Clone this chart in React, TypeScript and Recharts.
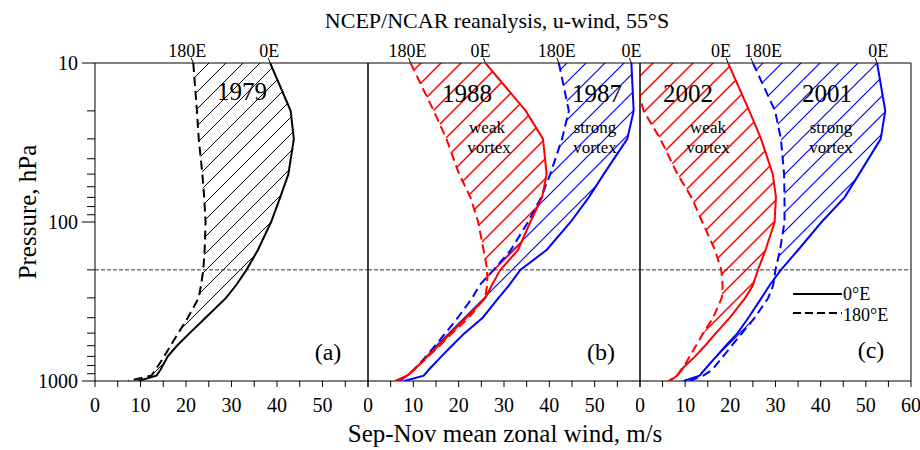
import React from 'react';
import { ComposedChart, Area, Line, XAxis, YAxis, ReferenceLine, ReferenceArea, ReferenceDot } from 'recharts';

const FONT = "'Liberation Serif', 'Times New Roman', serif";

// pressure levels, hPa (top to bottom)
const pressure = [10, 20, 30, 50, 70, 100, 150, 200, 250, 300, 400, 500, 600, 700, 850, 925, 1000];

// (a) 1979
const u0E1979 = [38.5, 43, 43.7, 42.5, 40.7, 38.7, 35.8, 33.3, 31, 28.8, 24.3, 20.8, 18, 16, 14.4, 13.5, 9.5];
const u180E1979 = [21.6, 22.4, 22.8, 23.6, 24, 24.3, 24.1, 23.8, 23.3, 22.8, 20.4, 18.3, 16.6, 15.2, 13.3, 12.4, 7.3];

// (b) 1988 weak vortex, 1987 strong vortex
const u0E1988 = [25.9, 34.8, 38.6, 39.4, 38.4, 35.8, 33.1, 29.2, 27.3, 25.9, 21.6, 18.2, 15.5, 13.1, 10.2, 8.6, 6.0];
const u180E1988 = [9.4, 14.5, 17.3, 20.1, 22.6, 24.3, 25.5, 26.3, 26.3, 25.8, 22.2, 18.6, 15.8, 13.3, 10.1, 8.8, 6.4];
const u0E1987 = [58.1, 58.6, 57.2, 52, 48.7, 44.7, 39.4, 33.6, 31.1, 28.8, 25.3, 21.3, 18.5, 16.2, 13.4, 12.3, 8.0];
const u180E1987 = [42.1, 44.3, 42.8, 40.2, 38.2, 35.3, 31.5, 27.7, 24.6, 23.0, 19.8, 17.1, 14.8, 12.8, 10.1, 8.6, 6.8];

// (c) 2002 weak vortex, 2001 strong vortex
const u0E2002 = [19.5, 24.2, 26.8, 29.4, 30.1, 29.8, 27.8, 26.1, 25, 23.3, 19.9, 16.8, 14.4, 12.2, 9.1, 8.2, 6.6];
const u180E2002 = [-2, 0.8, 4.5, 8.3, 11.4, 13.8, 16.6, 18, 18.3, 18.1, 16.2, 14, 12.4, 11, 9.3, 8.2, 6.3];
const u0E2001 = [52.5, 54.3, 53.3, 48.5, 45.3, 40.2, 35, 31.2, 28.7, 26.9, 24, 21.6, 19, 16.9, 14.3, 13.2, 9.6];
const u180E2001 = [25, 29.9, 31.2, 31.9, 32, 32, 31, 30, 29.5, 28.4, 25.4, 22.6, 20.3, 18.4, 16, 14, 11];

const pTicks = [10, 20, 30, 40, 50, 60, 70, 80, 90, 100, 200, 300, 400, 500, 600, 700, 800, 900, 1000];
const majorP = [10, 100, 1000];
const windTicks = [0, 5, 10, 15, 20, 25, 30, 35, 40, 45, 50, 55, 60];

type Profile = {
  id: string;
  u0: number[];
  u180: number[];
  color: string;
  gap: number;
  hatchWidth: number;
  shift0: number;
  shift180: number | null;
};

const LeftTick = (props: any) => {
  const { x, y, payload } = props;
  const major = majorP.includes(payload.value);
  return (
    <g>
      <line x1={x - (major ? 13 : 8)} x2={x} y1={y} y2={y} stroke="#000" strokeWidth={1} />
      {major && (
        <text x={x - 17} y={y} dy="0.35em" textAnchor="end" fontSize={20} fontFamily={FONT} fill="#000">
          {payload.value}
        </text>
      )}
    </g>
  );
};

const RightTick = (props: any) => {
  const { x, y, payload } = props;
  const major = majorP.includes(payload.value);
  return <line x1={x - (major ? 12 : 7)} x2={x} y1={y} y2={y} stroke="#000" strokeWidth={1} />;
};

const makeXTick = (showLast: boolean) => (props: any) => {
  const { x, y, payload } = props;
  const v = payload.value;
  const show = v % 10 === 0 && (showLast || v < 60);
  return (
    <g>
      <line x1={x} x2={x} y1={y} y2={y + 6} stroke="#000" strokeWidth={1} />
      {show && (
        <text x={x} y={y + 31} textAnchor="middle" fontSize={20} fontFamily={FONT} fill="#000">
          {v}
        </text>
      )}
    </g>
  );
};

const topLabel = (text: string, dx: number) => (props: any) => {
  const { cx, cy } = props;
  return (
    <g>
      <line x1={cx} y1={cy} x2={cx - 2} y2={cy - 5} stroke="#000" strokeWidth={1} />
      <text x={cx + dx} y={cy - 6} textAnchor="middle" fontSize={18} fontFamily={FONT} fill="#000">
        {text}
      </text>
    </g>
  );
};

// "/" hatch tile with horizontal spacing s
const hatchPath = (s: number) => `M-2,2 L2,-2 M0,${s} L${s},0 M${s - 2},${s + 2} L${s + 2},${s - 2}`;

function Panel({ name, profiles, left, width, margin, yLabels, showLast }: {
  name: string;
  profiles: Profile[];
  left: number;
  width: number;
  margin: { top: number; right: number; bottom: number; left: number };
  yLabels: boolean;
  showLast: boolean;
}) {
  const data = pressure.map((p, i) => {
    const row: any = { p };
    profiles.forEach((pr) => {
      row[pr.id + '0'] = pr.u0[i];
      row[pr.id + '180'] = pr.u180[i];
      row[pr.id + 'Band'] = [pr.u180[i], pr.u0[i]];
    });
    return row;
  });
  return (
    <div style={{ position: 'absolute', left, top: 0 }}>
      <svg width={1} height={1} style={{ position: 'absolute', left: 0, top: 0 }}>
        <defs>
          {profiles.map((pr) => (
            <pattern key={pr.id} id={`${name}-${pr.id}-hatch`} patternUnits="userSpaceOnUse"
              width={pr.gap} height={pr.gap}>
              <path d={hatchPath(pr.gap)} stroke={pr.color} strokeWidth={pr.hatchWidth} fill="none" />
            </pattern>
          ))}
        </defs>
      </svg>
      <ComposedChart layout="vertical" width={width} height={450} data={data} margin={margin}>
        <XAxis type="number" domain={[0, 60]} allowDataOverflow ticks={windTicks} interval={0}
          tick={makeXTick(showLast)} tickLine={false} axisLine={false} tickSize={0} tickMargin={0} height={30} />
        <YAxis type="number" dataKey="p" scale="log" domain={[10, 1000]} allowDataOverflow ticks={pTicks}
          interval={0} hide={!yLabels} width={60} tick={LeftTick} tickLine={false} axisLine={false}
          tickSize={0} tickMargin={0} />
        <YAxis yAxisId="r" orientation="right" mirror type="number" scale="log" domain={[10, 1000]}
          allowDataOverflow ticks={pTicks} interval={0} tick={RightTick} tickLine={false} axisLine={false}
          tickSize={0} tickMargin={0} />
        {profiles.map((pr) => (
          <Area key={pr.id + 'Band'} type="linear" dataKey={pr.id + 'Band'} stroke="none"
            fill={`url(#${name}-${pr.id}-hatch)`} fillOpacity={1} dot={false} activeDot={false}
            isAnimationActive={false} />
        ))}
        <ReferenceLine y={200} stroke="#333" strokeWidth={1} strokeDasharray="4 2" />
        {profiles.map((pr) => (
          <Line key={pr.id + '180'} type="linear" dataKey={pr.id + '180'} stroke={pr.color} strokeWidth={2}
            strokeDasharray="9 5" dot={false} activeDot={false} isAnimationActive={false} />
        ))}
        {profiles.map((pr) => (
          <Line key={pr.id + '0'} type="linear" dataKey={pr.id + '0'} stroke={pr.color} strokeWidth={2}
            dot={false} activeDot={false} isAnimationActive={false} />
        ))}
        <ReferenceArea x1={0} x2={60} y1={10} y2={1000} fill="none" stroke="#000" strokeWidth={1} />
        {profiles.map((pr) => (
          <ReferenceDot key={pr.id + 'l0'} x={pr.u0[0]} y={10} r={0} ifOverflow="visible"
            shape={topLabel('0E', pr.shift0)} />
        ))}
        {profiles.filter((pr) => pr.shift180 !== null).map((pr) => (
          <ReferenceDot key={pr.id + 'l180'} x={pr.u180[0]} y={10} r={0} ifOverflow="visible"
            shape={topLabel('180E', pr.shift180 as number)} />
        ))}
      </ComposedChart>
    </div>
  );
}

const panelA: Profile[] = [
  { id: 'y1979', u0: u0E1979, u180: u180E1979, color: '#000000', gap: 17, hatchWidth: 1, shift0: -1, shift180: -6 },
];
const panelB: Profile[] = [
  { id: 'y1987', u0: u0E1987, u180: u180E1987, color: '#0000ff', gap: 19, hatchWidth: 1.2, shift0: 0, shift180: -2 },
  { id: 'y1988', u0: u0E1988, u180: u180E1988, color: '#ff0000', gap: 20, hatchWidth: 1.5, shift0: -5, shift180: -3 },
];
const panelC: Profile[] = [
  { id: 'y2001', u0: u0E2001, u180: u180E2001, color: '#0000ff', gap: 19, hatchWidth: 1.2, shift0: 1, shift180: 10 },
  { id: 'y2002', u0: u0E2002, u180: u180E2002, color: '#ff0000', gap: 20, hatchWidth: 1.5, shift0: -7, shift180: null },
];

const txt = { fontFamily: FONT, fill: '#000' };

export default function App() {
  return (
    <div style={{ position: 'absolute', left: 0, top: 0, width: 920, height: 450, background: '#fff' }}>
      <Panel name="pa" profiles={panelA} left={0} width={372} yLabels showLast={false}
        margin={{ top: 63, right: 4, bottom: 39, left: 35 }} />
      <Panel name="pb" profiles={panelB} left={364} width={280} yLabels={false} showLast={false}
        margin={{ top: 63, right: 4, bottom: 39, left: 4 }} />
      <Panel name="pc" profiles={panelC} left={636} width={284} yLabels={false} showLast
        margin={{ top: 63, right: 9, bottom: 39, left: 4 }} />
      <svg width={920} height={450} style={{ position: 'absolute', left: 0, top: 0, pointerEvents: 'none' }}>
        <text x={497} y={28} textAnchor="middle" fontSize={22} {...txt}>NCEP/NCAR reanalysis, u-wind, 55°S</text>
        <text x={505} y={442} textAnchor="middle" fontSize={25} {...txt}>Sep-Nov mean zonal wind, m/s</text>
        <text x={36} y={212} textAnchor="middle" fontSize={25} transform="rotate(-90 36 212)" {...txt}>Pressure, hPa</text>

        <text x={242} y={100} textAnchor="middle" fontSize={25} {...txt}>1979</text>
        <text x={467} y={102} textAnchor="middle" fontSize={25} {...txt}>1988</text>
        <text x={597} y={102} textAnchor="middle" fontSize={25} {...txt}>1987</text>
        <text x={688} y={102} textAnchor="middle" fontSize={25} {...txt}>2002</text>
        <text x={827} y={102} textAnchor="middle" fontSize={25} {...txt}>2001</text>

        <text x={487} y={133} textAnchor="middle" fontSize={17} {...txt}>weak</text>
        <text x={489} y={153} textAnchor="middle" fontSize={17} {...txt}>vortex</text>
        <text x={595} y={133} textAnchor="middle" fontSize={17} {...txt}>strong</text>
        <text x={595} y={153} textAnchor="middle" fontSize={17} {...txt}>vortex</text>
        <text x={708} y={133} textAnchor="middle" fontSize={17} {...txt}>weak</text>
        <text x={708} y={153} textAnchor="middle" fontSize={17} {...txt}>vortex</text>
        <text x={831} y={133} textAnchor="middle" fontSize={17} {...txt}>strong</text>
        <text x={831} y={153} textAnchor="middle" fontSize={17} {...txt}>vortex</text>

        <text x={328} y={360} textAnchor="middle" fontSize={24} {...txt}>(a)</text>
        <text x={601} y={360} textAnchor="middle" fontSize={24} {...txt}>(b)</text>
        <text x={871} y={358} textAnchor="middle" fontSize={24} {...txt}>(c)</text>

        <line x1={793} x2={842} y1={294} y2={294} stroke="#000" strokeWidth={2} />
        <text x={843} y={300} fontSize={18} {...txt}>0°E</text>
        <line x1={793} x2={842} y1={313} y2={313} stroke="#000" strokeWidth={2} strokeDasharray="8 4" />
        <text x={843} y={321} fontSize={18} {...txt}>180°E</text>
      </svg>
    </div>
  );
}
